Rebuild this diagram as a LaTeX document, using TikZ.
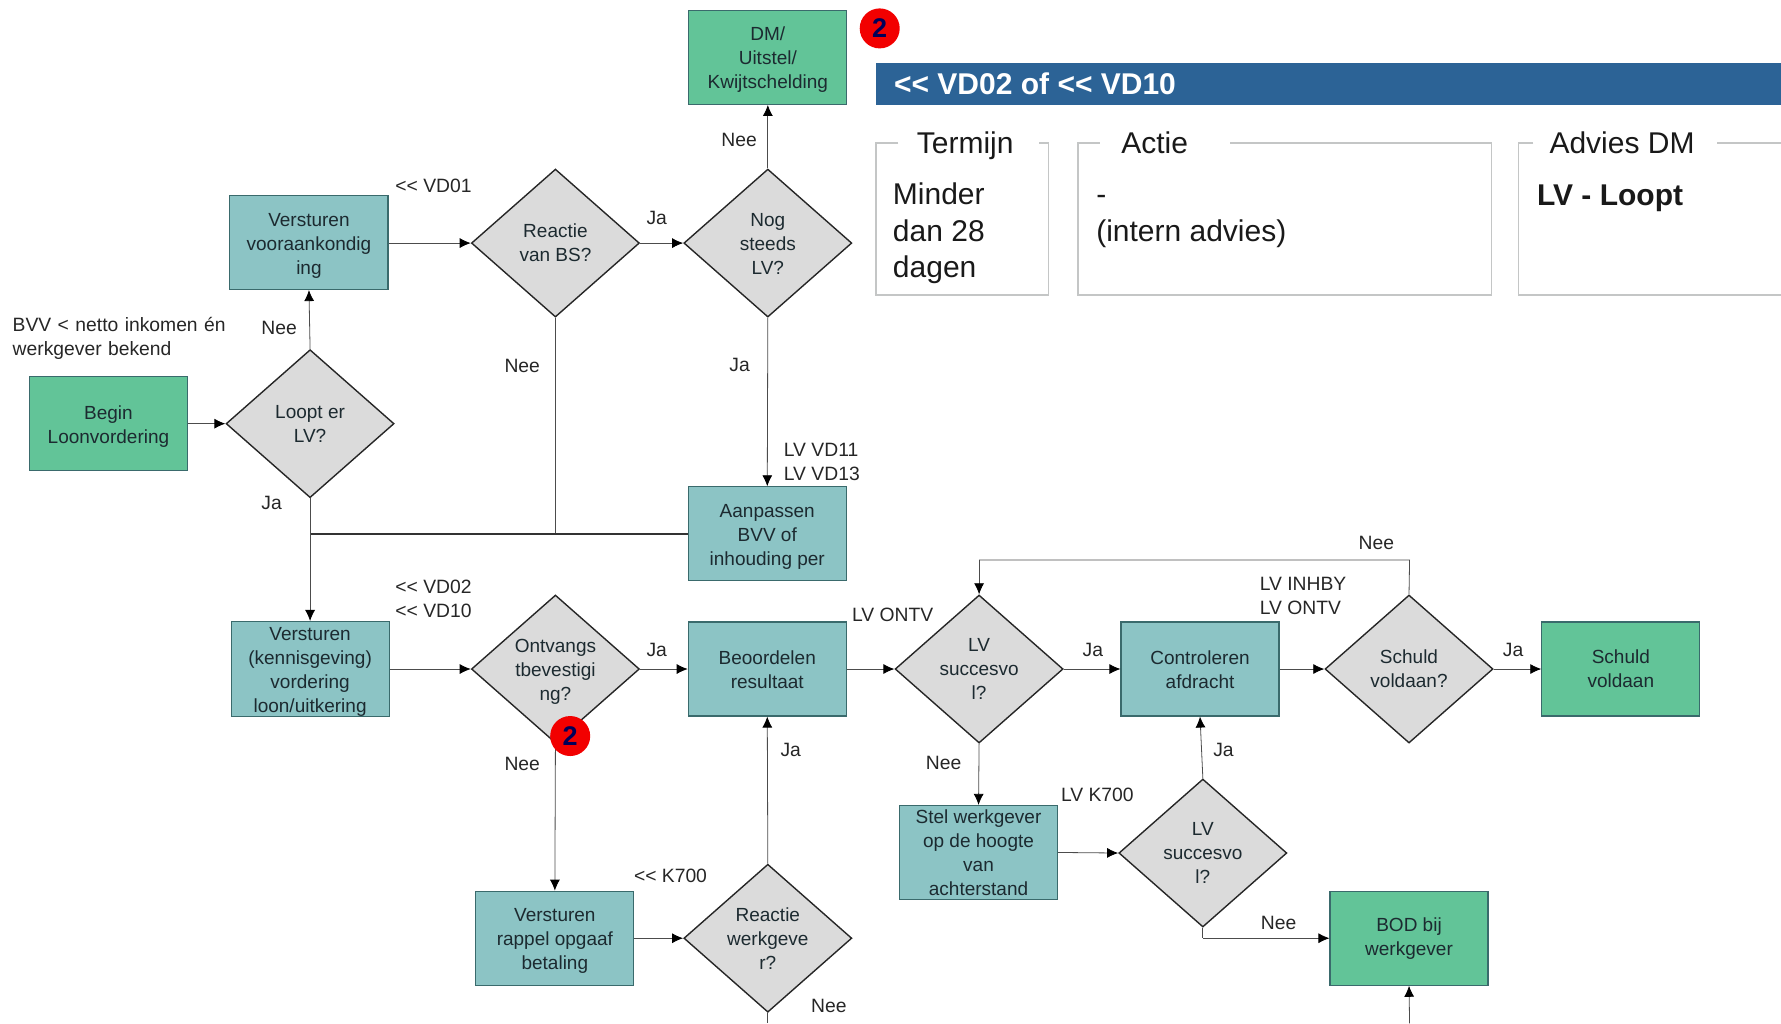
\documentclass[tikz,border=0pt]{standalone}
\usepackage{fontspec}
\setmainfont{Liberation Sans}
\usetikzlibrary{shapes.geometric,arrows.meta}
\definecolor{teal1}{HTML}{8CC4C5}
\definecolor{green1}{HTML}{62C498}
\definecolor{gray1}{HTML}{DBDBDB}
\definecolor{edge1}{HTML}{3A6A6C}
\definecolor{ink}{HTML}{1C2A30}
\definecolor{bar}{HTML}{2C6396}
\definecolor{frameg}{HTML}{C4C6C6}
\newcommand\dnA{\rule{0pt}{19pt}}
\newcommand\dnB{\rule{0pt}{15.5pt}}
\tikzset{
  x=1.1358pt,y=-1.1358pt,
  base/.style={font=\fontsize{19}{24}\selectfont,text=ink,align=center,inner sep=0pt},
  tealbox/.style={base,rectangle,draw=edge1,line width=1.1pt,fill=teal1,minimum width=158pt,minimum height=94pt},
  greenbox/.style={tealbox,fill=green1},
  choice/.style={base,diamond,draw=black!85,line width=1.4pt,fill=gray1,minimum width=168pt,minimum height=148pt,aspect=1.13},
  lbl/.style={font=\fontsize{19.3}{24}\selectfont,text=black!85,inner sep=0pt,align=left},
  link/.style={draw=black!70,line width=0.8pt,-{Latex[length=11pt,width=10pt,black]}},
  plain/.style={draw=black!70,line width=0.8pt},
  thickline/.style={draw=black!80,line width=1.7pt},
  badge/.style={circle,fill=red!95!black,minimum size=40pt,inner sep=0pt,text=blue!35!black,font=\fontsize{27}{27}\selectfont\bfseries},
  frame/.style={draw=frameg,line width=1.7pt},
  ptitle/.style={font=\fontsize{30}{36}\selectfont,text=black!90,inner sep=0pt,anchor=west},
  ptext/.style={font=\fontsize{30}{36.5}\selectfont,text=black!90,inner sep=0pt,anchor=north west,align=left},
}
\begin{document}
\begin{tikzpicture}
\useasboundingbox (0,0) rectangle (1568,901);
% header
\node[rectangle,fill=bar,minimum width=905pt,minimum height=42pt,inner sep=0pt,anchor=north west] (headbar) at (771,55) {};
\node[font=\fontsize{30}{30}\selectfont\bfseries,text=white,inner sep=0pt,anchor=west] (headtxt) at (787,74) {<{}< VD02 of <{}< VD10};
% panels
\draw[frame] (791,126) -- (771,126) -- (771,260) -- (923,260) -- (923,126) -- (915,126);
\draw[frame] (968,126) -- (949,126) -- (949,260) -- (1313,260) -- (1313,126) -- (1083,126);
\draw[frame] (1350,126) -- (1337,126) -- (1337,260) -- (1568,260);
\draw[frame] (1512,126) -- (1568,126);
\node[ptitle] (t1) at (807,128) {Termijn};
\node[ptitle] (t2) at (987,126) {Actie};
\node[ptitle] (t3) at (1364,126) {Advies DM};
\node[ptext] (x1) at (786,161) {Minder\\dan 28\\dagen};
\node[ptext] (x2) at (965,172) {-\\(intern advies)};
\node[ptext,font=\fontsize{30}{36}\selectfont\bfseries] (x3) at (1353,163) {LV - Loopt};
% boxes
\node[greenbox] (dm) at (676,50.5) {\dnA DM/\\Uitstel/\\Kwijtschelding};
\node[tealbox] (vv) at (272,213.5) {\dnA Versturen\\vooraankondig\\ing};
\node[greenbox] (begin) at (95.5,373) {\dnA Begin\\Loonvordering};
\node[tealbox] (aan) at (675.5,470) {\dnA Aanpassen\\BVV of\\inhouding per};
\node[tealbox] (vk) at (273,589) {\dnA Versturen\\(kennisgeving)\\vordering\\loon/uitkering};
\node[tealbox] (beo) at (675.5,589) {\dnB Beoordelen\\resultaat};
\node[tealbox] (con) at (1056.5,589) {\dnB Controleren\\afdracht};
\node[greenbox] (sv) at (1427,589) {Schuld\\voldaan};
\node[tealbox] (stel) at (861.5,750.5) {Stel werkgever\\op de hoogte\\van\\achterstand};
\node[greenbox] (bod) at (1240.5,826) {\dnB BOD bij\\werkgever};
\node[tealbox] (rap) at (488.5,826) {\dnA Versturen\\rappel opgaaf\\betaling};
% diamonds
\node[choice] (rbs) at (489,214) {Reactie\\van BS?};
\node[choice] (nog) at (676,214) {\dnB Nog\\steeds\\LV?};
\node[choice] (loopt) at (273,373) {Loopt er\\LV?};
\node[choice] (ont) at (489,589) {\dnA Ontvangs\\tbevestigi\\ng?};
\node[choice] (lv1) at (862,589) {LV\\succesvo\\l?};
\node[choice] (sch) at (1240.5,589) {Schuld\\voldaan?};
\node[choice] (lv2) at (1059,751) {LV\\succesvo\\l?};
\node[choice] (rw) at (676,826) {Reactie\\werkgeve\\r?};
% free ends
\coordinate (jr) at (489,470);
\coordinate (jl) at (273,470);
\coordinate (bot1) at (676,901);
\coordinate (bot2) at (1241,901);
\coordinate (top1) at (1241,493);
\coordinate (top2) at (862,493);
\coordinate (low) at (1059,826);
\coordinate (vvin) at (vv.east |- rbs.west);
% connectors
\draw[link] (begin.east) -- (loopt.west);
\draw[link] (loopt.north) -- (vv.south);
\draw[link] (vvin) -- (rbs.west);
\draw[link] (rbs.east) -- (nog.west);
\draw[link] (nog.north) -- (dm.south);
\draw[link] (nog.south) -- (aan.north);
\draw[plain] (rbs.south) -- (jr);
\draw[thickline] (aan.west) -- (jl);
\draw[link] (loopt.south) -- (vk.north);
\draw[link] (vk.east) -- (ont.west);
\draw[link] (ont.east) -- (beo.west);
\draw[link] (ont.south) -- (rap.north);
\draw[link] (rap.east) -- (rw.west);
\draw[link] (rw.north) -- (beo.south);
\draw[plain] (rw.south) -- (bot1);
\draw[link] (beo.east) -- (lv1.west);
\draw[link] (lv1.east) -- (con.west);
\draw[link] (con.east) -- (sch.west);
\draw[link] (sch.east) -- (sv.west);
\draw[plain] (sch.north) -- (top1) -- (top2);
\draw[link] (top2) -- (lv1.north);
\draw[link] (lv1.south) -- (stel.north);
\draw[link] (stel.east) -- (lv2.west);
\draw[link] (lv2.north) -- (con.south);
\draw[plain] (lv2.south) -- (low);
\draw[link] (low) -- (bod.west);
\draw[link] (bot2) -- (bod.south);
% badges
\node[badge] (b1) at (774.5,25) {2};
\node[badge] (b2) at (502,648) {2};
% labels
\node[lbl,anchor=west] (l1) at (348,164) {<{}< VD01};
\node[lbl,anchor=west,text width=230pt] (l2) at (11,298) {BVV < netto inkomen én\\werkgever bekend};
\node[lbl,anchor=west] (l3) at (230,289) {Nee};
\node[lbl,anchor=west] (l4) at (230,443) {Ja};
\node[lbl,anchor=west] (l5) at (569,192) {Ja};
\node[lbl,anchor=west] (l6) at (635,123) {Nee};
\node[lbl,anchor=west] (l7) at (444,322) {Nee};
\node[lbl,anchor=west] (l8) at (642,321) {Ja};
\node[lbl,anchor=west] (l9) at (690,406.5) {LV VD11\\LV VD13};
\node[lbl,anchor=west] (l10) at (348,527.5) {<{}< VD02\\<{}< VD10};
\node[lbl,anchor=west] (l11) at (569,572) {Ja};
\node[lbl,anchor=west] (l12) at (750,541) {LV ONTV};
\node[lbl,anchor=west] (l13) at (953,572) {Ja};
\node[lbl,anchor=west] (l14) at (1109,525) {LV INHBY\\LV ONTV};
\node[lbl,anchor=west] (l15) at (1196,478) {Nee};
\node[lbl,anchor=west] (l16) at (1323,572) {Ja};
\node[lbl,anchor=west] (l17) at (444,673) {Nee};
\node[lbl,anchor=west] (l18) at (687,660) {Ja};
\node[lbl,anchor=west] (l19) at (815,672) {Nee};
\node[lbl,anchor=west] (l20) at (934,700) {LV K700};
\node[lbl,anchor=west] (l21) at (1068,660) {Ja};
\node[lbl,anchor=west] (l22) at (1110,813) {Nee};
\node[lbl,anchor=west] (l23) at (558,771) {<{}< K700};
\node[lbl,anchor=west] (l24) at (714,886) {Nee};
\end{tikzpicture}
\end{document}
